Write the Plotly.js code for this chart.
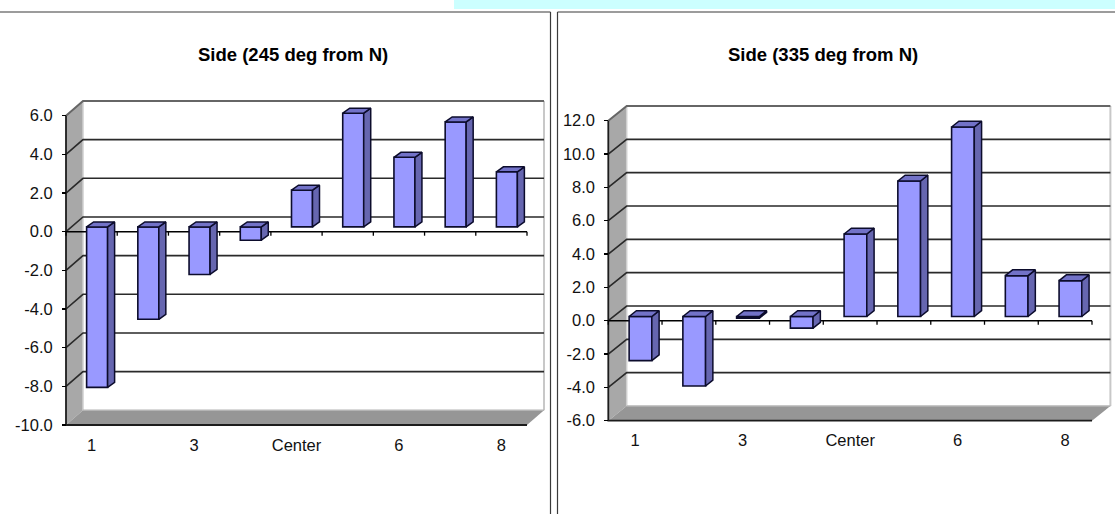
<!DOCTYPE html>
<html><head><meta charset="utf-8">
<script src="https://cdn.plot.ly/plotly-3.0.1.min.js"></script>
<style>html,body{margin:0;padding:0;background:#fff}#c{width:1115px;height:514px}</style>
</head><body><div id="c"></div>
<script>
const categories = ["1","2","3","4","Center","5","6","7","8"];
const labelledCategories = ["1","3","Center","6","8"];
const values245 = [-8.3,-4.78,-2.46,-0.69,1.9,5.88,3.6,5.43,2.85];
const values335 = [-2.65,-4.17,-0.1,-0.7,4.95,8.13,11.37,2.45,2.15];
const ticks245 = [-10,-8,-6,-4,-2,0,2,4,6];
const ticks335 = [-6,-4,-2,0,2,4,6,8,10,12];
const tickLabels245 = ["-10.0","-8.0","-6.0","-4.0","-2.0","0.0","2.0","4.0","6.0"];
const tickLabels335 = ["-6.0","-4.0","-2.0","0.0","2.0","4.0","6.0","8.0","10.0","12.0"];
const title245 = "Side (245 deg from N)";
const title335 = "Side (335 deg from N)";

const W = 1115, H = 514, PAD = 3;
const FONT = "Liberation Sans, Arial, sans-serif";
const data = [], shapes = [], annotations = [], layout = {};

function addChart(n, o) {
  const xn = n === 1 ? 'x' : 'x' + n, yn = n === 1 ? 'y' : 'y' + n;
  const catW = (o.xRight - o.xLeft) / categories.length;
  const uY = (o.yBottom - o.yTop) / (o.vMax - o.vMin);
  const dx = o.depthX / catW, dy = o.depthY / uY;
  const x0 = -0.5, x1 = categories.length - 0.5;
  const P = (pts) => 'M' + pts.map(p => p[0] + ',' + p[1]).join(' L') ;
  const add = (path, s) => shapes.push(Object.assign({type:'path', xref:xn, yref:yn, path, layer:'below'}, s));
  const noLine = {width:0, color:'rgba(0,0,0,0)'};

  // walls
  add(P([[x0,o.vMin],[x0,o.vMax],[x0+dx,o.vMax+dy],[x0+dx,o.vMin+dy]])+'Z', {fillcolor:'#a8a8a8', line:noLine});
  add(P([[x0,o.vMin],[x1,o.vMin],[x1+dx,o.vMin+dy],[x0+dx,o.vMin+dy]])+'Z', {fillcolor:'#969696', line:noLine});
  add(P([[x1+dx,o.vMin+dy],[x1+dx,o.vMax+dy]]), {line:{color:'#c8c8c8', width:2}});
  add(P([[x0+dx,o.vMin+dy],[x0+dx,o.vMax+dy]]), {line:{color:'#cfcfcf', width:1.5}});
  // grid
  o.ticks.forEach(t => {
    if (t !== o.vMin) add(P([[x0,t],[x0+dx,t+dy],[x1+dx,t+dy]]), {line:{color: t===o.vMax ? '#666' : '#2a2a2a', width: t===o.vMax ? 2 : 1.6}});
  });
  add(P([[x0+dx,o.vMin+dy],[x1+dx,o.vMin+dy]]), {line:{color:'#b4b4b4', width:1.5}});
  // front edges
  add(P([[x0,o.vMax],[x0,o.vMin],[x1,o.vMin]]), {line:{color:'#1c1c1c', width:1.8}});
  // zero-plane axis and its ticks
  add(P([[x0,0],[x1,0]]), {line:{color:'#000', width:1.6}});
  categories.forEach((c,i) => add(P([[i+0.5,0],[i+0.5,-4/uY]]), {line:{color:'#000', width:1.3}}));
  add(P([[x0,0],[x0,-4/uY]]), {line:{color:'#000', width:1.3}});

  // bars
  const bw = o.barW / catW, bx = o.barFront / catW, bdx = o.barDX / catW;
  const base = o.barLift / uY, bdy = o.barDY / uY;
  const xs = o.values.map((v,i) => i + bx);
  data.push({type:'bar', x:xs, y:o.values, base:o.values.map(()=>base), width:bw, xaxis:xn, yaxis:yn,
    marker:{color:'#9999ff', line:{color:'#0c0c2c', width:1.6}}, hoverinfo:'skip', showlegend:false});
  const sx=[], sy=[], tx=[], ty=[];
  o.values.forEach((v,i) => {
    const l = xs[i]-bw/2, r = xs[i]+bw/2, t = Math.max(v,0)+base, b = Math.min(v,0)+base;
    sx.push(r,r+bdx,r+bdx,r,r,null); sy.push(t,t+bdy,b+bdy,b,t,null);
    tx.push(l,l+bdx,r+bdx,r,l,null); ty.push(t,t+bdy,t+bdy,t,t,null);
  });
  [[sx,sy,'#6666b0'],[tx,ty,'#7272c8']].forEach(([x,y,c]) => data.push({type:'scatter', mode:'lines', x, y, xaxis:xn, yaxis:yn,
    fill:'toself', fillcolor:c, line:{color:'#0c0c2c', width:1.5}, connectgaps:false, hoverinfo:'skip', showlegend:false}));

  // axes
  const xa = 'xaxis' + (n===1?'':n), ya = 'yaxis' + (n===1?'':n);
  layout[xa] = {domain:[(o.xLeft-PAD)/W,(o.xRight+o.depthX+PAD)/W], range:[x0-PAD/catW, x1+dx+PAD/catW],
    anchor:'free', position:1-o.yBottom/H, showgrid:false, zeroline:false, showline:false,
    tickmode:'array', tickvals:labelledCategories.map(c=>categories.indexOf(c)), ticktext:labelledCategories,
    ticks:'', ticklabelstandoff:o.xStand, tickfont:{family:FONT,size:o.fs,color:'#111'}, fixedrange:true};
  layout[ya] = {domain:[1-(o.yBottom+PAD)/H, 1-(o.yTop-o.depthY-PAD)/H].map(v=>Math.max(0,v)), range:[o.vMin-PAD/uY, o.vMax+dy+PAD/uY],
    anchor:'free', position:o.xLeft/W, showgrid:false, zeroline:false, showline:false,
    tickmode:'array', tickvals:o.ticks, ticktext:o.tickLabels,
    ticks:'outside', ticklen:4, tickwidth:1.3, tickcolor:'#000', ticklabelstandoff:o.yStand, tickfont:{family:FONT,size:o.fs,color:'#111'}, fixedrange:true};
  annotations.push({xref:'paper', yref:'paper', x:o.titleX/W, y:1-o.titleY/H, xanchor:'center', yanchor:'middle', showarrow:false,
    text:'<b>'+o.title+'</b>', font:{family:FONT,size:o.titleSize,color:'#000'}});
}

addChart(1, {values:values245, ticks:ticks245, tickLabels:tickLabels245, title:title245, vMin:-10, vMax:6,
  xLeft:66, xRight:527, yTop:115.7, yBottom:425, depthX:17, depthY:14.7,
  barW:21, barFront:5.5, barDX:7, barLift:4.8, barDY:5, xStand:8, yStand:6, fs:16.5, titleX:293, titleY:55, titleSize:18.5});
addChart(2, {values:values335, ticks:ticks335, tickLabels:tickLabels335, title:title335, vMin:-6, vMax:12,
  xLeft:608.3, xRight:1092, yTop:120.7, yBottom:420.7, depthX:18.4, depthY:14.7,
  barW:22.7, barFront:5.3, barDX:7.3, barLift:4.2, barDY:5.8, xStand:8, yStand:6, fs:16.5, titleX:823, titleY:55, titleSize:18.5});

const py = v => 1 - v / H, px = v => v / W;
const frame = {type:'line', xref:'paper', yref:'paper', layer:'above', line:{color:'#3a3a3a', width:1.2}};
shapes.push({type:'rect', xref:'paper', yref:'paper', x0:px(454), x1:1, y0:py(9), y1:1, fillcolor:'#ccffff', line:{width:0}, layer:'below'});
shapes.push(Object.assign({}, frame, {x0:0, x1:px(550.5), y0:py(12), y1:py(12)}));
shapes.push(Object.assign({}, frame, {x0:px(557.5), x1:1, y0:py(12), y1:py(12)}));
shapes.push(Object.assign({}, frame, {x0:px(550.5), x1:px(550.5), y0:py(12), y1:0}));
shapes.push(Object.assign({}, frame, {x0:px(557.5), x1:px(557.5), y0:py(12), y1:0}));

Object.assign(layout, {width:W, height:H, margin:{l:0,r:0,t:0,b:0}, paper_bgcolor:'#fff', plot_bgcolor:'rgba(0,0,0,0)',
  showlegend:false, barmode:'overlay', shapes, annotations});
Plotly.newPlot('c', data, layout, {displayModeBar:false, staticPlot:true});
</script></body></html>
